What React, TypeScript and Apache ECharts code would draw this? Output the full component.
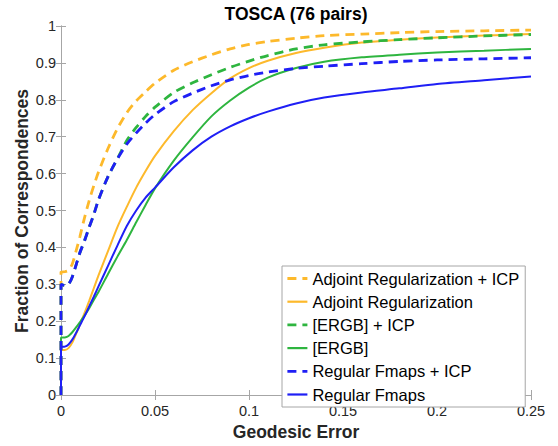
import React, { useEffect, useRef } from "react";
import * as echarts from "echarts";

const xs = [0, 0.002, 0.004, 0.006, 0.008, 0.01, 0.0125, 0.015, 0.0175, 0.02, 0.025, 0.03, 0.035, 0.04, 0.045, 0.05, 0.06, 0.07, 0.08, 0.09, 0.1, 0.11, 0.125, 0.14, 0.16, 0.18, 0.2, 0.225, 0.25];

const adjointICP = [0.333, 0.334, 0.338, 0.355, 0.39, 0.428, 0.48, 0.527, 0.568, 0.605, 0.668, 0.722, 0.765, 0.797, 0.822, 0.845, 0.88, 0.903, 0.922, 0.938, 0.95, 0.958, 0.967, 0.974, 0.978, 0.982, 0.985, 0.987, 0.989];
const adjoint = [0.122, 0.122, 0.127, 0.142, 0.165, 0.19, 0.222, 0.255, 0.29, 0.325, 0.39, 0.455, 0.51, 0.562, 0.607, 0.648, 0.715, 0.772, 0.818, 0.858, 0.886, 0.906, 0.927, 0.941, 0.955, 0.963, 0.969, 0.974, 0.978];
const ergbICP = [0.30, 0.297, 0.30, 0.32, 0.352, 0.385, 0.418, 0.455, 0.49, 0.53, 0.592, 0.64, 0.69, 0.725, 0.755, 0.78, 0.82, 0.846, 0.868, 0.888, 0.905, 0.92, 0.938, 0.949, 0.957, 0.963, 0.968, 0.973, 0.977];
const ergb = [0.155, 0.156, 0.16, 0.17, 0.183, 0.197, 0.215, 0.235, 0.258, 0.28, 0.328, 0.375, 0.42, 0.468, 0.515, 0.56, 0.635, 0.698, 0.755, 0.798, 0.833, 0.86, 0.886, 0.903, 0.915, 0.922, 0.928, 0.933, 0.938];
const fmapsICP = [0.30, 0.297, 0.30, 0.32, 0.352, 0.385, 0.418, 0.455, 0.49, 0.53, 0.592, 0.64, 0.68, 0.71, 0.737, 0.76, 0.795, 0.818, 0.838, 0.854, 0.866, 0.875, 0.885, 0.891, 0.898, 0.904, 0.908, 0.911, 0.914];
const fmaps = [0.13, 0.131, 0.137, 0.15, 0.168, 0.188, 0.213, 0.24, 0.267, 0.295, 0.35, 0.405, 0.458, 0.5, 0.535, 0.562, 0.617, 0.663, 0.7, 0.728, 0.75, 0.768, 0.79, 0.806, 0.82, 0.831, 0.843, 0.853, 0.863];

const seriesNames = ["Adjoint Regularization + ICP", "Adjoint Regularization", "[ERGB] + ICP", "[ERGB]", "Regular Fmaps + ICP", "Regular Fmaps"];
const seriesValues = [adjointICP, adjoint, ergbICP, ergb, fmapsICP, fmaps];
const seriesColors = ["#FDB92B", "#FDB92B", "#2EB53F", "#2EB53F", "#1F1FF5", "#1F1FF5"];
const seriesDashed = [true, false, true, false, true, false];

const FONT = '"Liberation Sans", Arial, Helvetica, sans-serif';
const DASH = [9, 6];

export default function App() {
  const ref = useRef<HTMLDivElement>(null);
  useEffect(() => {
    if (!ref.current) return;
    const chart = echarts.init(ref.current, undefined, { renderer: "svg" });
    const axisColor = "#a6a6a6";
    const series = seriesNames.map((name, k) => ({
      name,
      type: "line",
      symbol: "none",
      showSymbol: false,
      smooth: 0.25,
      xAxisIndex: 0,
      yAxisIndex: 0,
      data: [[0, 0], ...xs.map((x, i) => [x, seriesValues[k][i]])],
      lineStyle: {
        color: seriesColors[k],
        width: seriesDashed[k] ? 2.8 : 2,
        type: seriesDashed[k] ? DASH : "solid",
      },
      itemStyle: { color: seriesColors[k], opacity: 0 },
    }));
    chart.setOption({
      animation: false,
      textStyle: { fontFamily: FONT },
      grid: { left: 61, right: 27, top: 26, bottom: 50, containLabel: false },
      graphic: [
        {
          type: "text",
          x: 296,
          y: 14,
          style: {
            text: "TOSCA (76 pairs)",
            fontFamily: FONT,
            fontWeight: "bold",
            fontSize: 17.5,
            fill: "#000",
            textAlign: "center",
            textVerticalAlign: "middle",
          },
        },
        {
          type: "text",
          x: 22,
          y: 211,
          rotation: Math.PI / 2,
          style: {
            text: "Fraction of Correspondences",
            fontFamily: FONT,
            fontWeight: "bold",
            fontSize: 17.5,
            fill: "#262626",
            textAlign: "center",
            textVerticalAlign: "middle",
          },
        },
      ],
      legend: {
        orient: "vertical",
        left: 282,
        top: 266,
        padding: [4, 6, 4, 4],
        itemWidth: 20,
        itemHeight: 14,
        itemGap: 6.2,
        backgroundColor: "#fff",
        borderColor: "#a6a6a6",
        borderWidth: 1,
        borderRadius: 0,
        itemStyle: { opacity: 0, borderWidth: 0 },
        textStyle: { fontFamily: FONT, fontSize: 16.5, color: "#000" },
        data: seriesNames.map((name, k) => ({
          name,
          itemStyle: { opacity: 0, borderWidth: 0 },
          lineStyle: {
            color: seriesColors[k],
            width: seriesDashed[k] ? 2.8 : 2.2,
            type: seriesDashed[k] ? DASH : "solid",
            opacity: 1,
          },
        })),
      },
      xAxis: [
        {
          type: "value",
          min: 0,
          max: 0.25,
          interval: 0.05,
          name: "Geodesic Error",
          nameLocation: "middle",
          nameGap: 28,
          nameTextStyle: { fontFamily: FONT, fontWeight: "bold", fontSize: 17.5, color: "#262626" },
          axisLine: { show: true, lineStyle: { color: axisColor, width: 1 } },
          axisTick: { show: true, inside: true, length: 5, lineStyle: { color: axisColor } },
          axisLabel: { fontFamily: FONT, fontSize: 14.5, color: "#262626", margin: 8, showMinLabel: true, showMaxLabel: true },
          splitLine: { show: false },
        },
        {
          type: "value",
          position: "top",
          min: 0,
          max: 0.25,
          interval: 0.05,
          axisLine: { show: true, lineStyle: { color: axisColor, width: 1 } },
          axisTick: { show: true, inside: true, length: 5, lineStyle: { color: axisColor } },
          axisLabel: { show: false },
          splitLine: { show: false },
        },
      ],
      yAxis: [
        {
          type: "value",
          min: 0,
          max: 1,
          interval: 0.1,
          axisLine: { show: true, lineStyle: { color: axisColor, width: 1 } },
          axisTick: { show: true, inside: true, length: 5, lineStyle: { color: axisColor } },
          axisLabel: { fontFamily: FONT, fontSize: 14.5, color: "#262626", margin: 5, showMinLabel: true, showMaxLabel: true },
          splitLine: { show: false },
        },
        {
          type: "value",
          position: "right",
          min: 0,
          max: 1,
          interval: 0.1,
          axisLine: { show: true, lineStyle: { color: axisColor, width: 1 } },
          axisTick: { show: true, inside: true, length: 5, lineStyle: { color: axisColor } },
          axisLabel: { show: false },
          splitLine: { show: false },
        },
      ],
      series,
    });
    return () => chart.dispose();
  }, []);
  return (
    <div
      ref={ref}
      style={{ position: "fixed", left: 0, top: 0, width: 558, height: 446, background: "#fff" }}
    />
  );
}
